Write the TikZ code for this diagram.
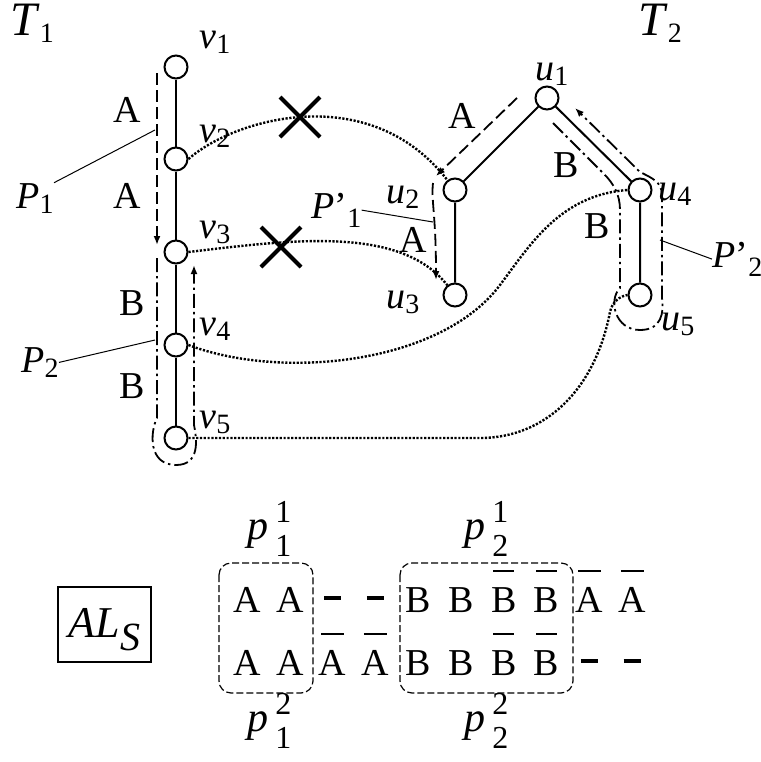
\documentclass[tikz,border=0pt]{standalone}
\usepackage{fontspec}
\setmainfont{Liberation Serif}
\usetikzlibrary{arrows.meta,positioning,calc,shapes.misc}
\definecolor{AlInk}{RGB}{0,0,0}
\newcommand{\subsz}{\fontsize{14}{14}\selectfont}
\newcommand{\pssz}{\fontsize{16}{16}\selectfont}
\newcommand{\lab}[2]{\textit{#1}\/\raisebox{-0.15em}{\subsz #2}}
\newcommand{\labq}[2]{\textit{#1}\/’\raisebox{-0.25em}{\subsz #2}}
\newcommand{\plab}[2]{\textit{p}\,\rlap{\raisebox{0.4em}{\pssz #1}}\raisebox{-0.42em}{\pssz #2}}
\newcommand{\barred}[1]{\setbox0\hbox{#1}\rlap{\hspace{0.06em}\rule[1.04em]{\dimexpr\wd0-0.12em\relax}{0.06em}}\box0}
\newcommand{\gapmark}{\rule[0.32em]{0.45em}{0.1em}}
\tikzset{
  al/vertex/.style={circle, draw=AlInk, line width=1pt, fill=white, minimum size=11.5pt, inner sep=0pt},
  al/edge/.style={draw=AlInk, line width=1pt},
  al/link/.style={draw=AlInk, line width=1.2pt, dash pattern=on 1.1pt off 0.8pt},
  al/pathA/.style={draw=AlInk, line width=0.9pt, dash pattern=on 6pt off 2.5pt},
  al/pathB/.style={draw=AlInk, line width=0.9pt, dash pattern=on 7pt off 2pt on 1.2pt off 2pt},
  al/tip/.style={-{Latex[length=4.5pt,width=3.5pt]}},
  al/cross/.style={cross out, draw=AlInk, line width=2pt, minimum size=18pt, inner sep=0pt},
  al/leader/.style={draw=AlInk, line width=0.5pt},
  al/lab/.style={inner sep=0pt, anchor=base west, font=\fontsize{19}{19}\selectfont},
  al/tag/.style={inner sep=0pt, anchor=base, font=\fontsize{19}{19}\selectfont},
  al/title/.style={inner sep=0pt, anchor=base west, font=\fontsize{24}{24}\selectfont},
  al/cell/.style={inner sep=0pt, anchor=base, font=\fontsize{19}{19}\selectfont},
  al/plabel/.style={inner sep=0pt, anchor=base west, font=\fontsize{21}{21}\selectfont},
  al/group/.style={draw=AlInk, line width=0.6pt, dash pattern=on 3.5pt off 1.5pt, rounded corners=6pt},
  al/boxed/.style={draw=AlInk, line width=0.6pt, minimum width=46.5pt, minimum height=37.5pt,
    inner sep=0pt, text height=14.5pt, text depth=2pt, font=\fontsize{22}{22}\selectfont}
}
\begin{document}
\begin{tikzpicture}[x=0.5pt,y=-0.5pt]
  \useasboundingbox (0,0) rectangle (761,762);
  % tree T1
  \foreach \n/\y in {1/67,2/159,3/252,4/345,5/438}
    \node[al/vertex] (v\n) at (176,\y) {};
  % tree T2
  \node[al/vertex] (u1) at (547,98) {};
  \node[al/vertex] (u2) at (455,190) {};
  \node[al/vertex] (u3) at (455,295) {};
  \node[al/vertex] (u4) at (640,190) {};
  \node[al/vertex] (u5) at (640,295) {};
  \draw[al/edge] (v1) -- (v2) -- (v3) -- (v4) -- (v5);
  \draw[al/edge] (u3) -- (u2) -- (u1) -- (u4) -- (u5);

  % labels
  \node[al/title] (t1) at (10,35) {\lab{T}{1}};
  \node[al/title] (t2) at (638,35) {\lab{T}{2}};
  \foreach \n/\y in {1/48,2/142,3/238,4/335,5/428}
    \node[al/lab] (lv\n) at (199,\y) {\lab{v}{\n}};
  \node[al/lab] (lu1) at (535,80) {\lab{u}{1}};
  \node[al/lab] (lu2) at (386,203) {\lab{u}{2}};
  \node[al/lab] (lu3) at (386,308) {\lab{u}{3}};
  \node[al/lab] (lu4) at (658,200) {\lab{u}{4}};
  \node[al/lab] (lu5) at (661,330) {\lab{u}{5}};

  % broken and kept links
  \node[al/cross] (x1) at (300,117) {};
  \node[al/cross] (x2) at (281,247) {};
  \draw[al/link] (v2.east) .. controls (235,118) and (370,80) .. (u2);
  \draw[al/link] (v3.east) .. controls (290,240) and (400,225) .. (u3);
  \draw[al/link] (v4.east) .. controls (280,380) and (440,365) .. (500,285)
    .. controls (530,245) and (560,195) .. (u4.west);
  \draw[al/link] (v5.east) -- (480,438) .. controls (545,438) and (595,390) .. (610,312)
    .. controls (612,302) and (620,296) .. (u5.west);

  % paths in T1
  \draw[al/pathA, al/tip] (157,73) -- (157,245);
  \draw[al/pathB, al/tip] (157,258) -- (157,418) .. controls (150,432) and (148,465) .. (176,465)
    .. controls (200,465) and (197,440) .. (194,425) -- (194,265);
  \node[al/tag] (a1) at (127,122) {A};
  \node[al/tag] (a2) at (127,208) {A};
  \node[al/tag] (b1) at (132,315) {B};
  \node[al/tag] (b2) at (132,398) {B};
  \node[al/lab] (lp1) at (16,208) {\lab{P}{1}};
  \node[al/lab] (lp2) at (21,372) {\lab{P}{2}};
  \coordinate (p1hook) at (155,130);
  \coordinate (p2hook) at (155,340);
  \draw[al/leader] (lp1.north east) -- (p1hook);
  \draw[al/leader] (lp2.east) -- (p2hook);

  % paths in T2
  \draw[al/pathA, al/tip] (517,98) -- (436,176);
  \draw[al/pathA, al/tip] (433,183) .. controls (431,200) and (436,215) .. (436,280);
  \draw[al/pathB, al/tip] (553,123) -- (604,174) .. controls (614,184) and (620,195) .. (620,210)
    -- (620,288) .. controls (608,300) and (615,330) .. (640,330)
    .. controls (662,330) and (664,312) .. (662,298) -- (662,195)
    .. controls (662,182) and (652,178) .. (640,172) -- (575,108);
  \node[al/tag] (a3) at (462,128) {A};
  \node[al/tag] (a4) at (413,252) {A};
  \node[al/tag] (b3) at (566,177) {B};
  \node[al/tag] (b4) at (597,238) {B};
  \node[al/lab] (lp1p) at (311,218) {\labq{P}{1}};
  \node[al/lab] (lp2p) at (712,267) {\labq{P}{2}};
  \coordinate (p1phook) at (433,222);
  \coordinate (p2phook) at (660,240);
  \draw[al/leader] (lp1p.east) -- (p1phook);
  \draw[al/leader] (lp2p.west) -- (p2phook);

  % alignment AL_S
  \node[al/boxed] (als) at (104.5,624.5) {\textit{AL}\raisebox{-0.3em}{\fontsize{20}{20}\selectfont\textit{S}}};
  \foreach \c [count=\i from 0] in {A,A,\gapmark,\gapmark,B,B,\barred{B},\barred{B},\barred{A},\barred{A}}
    \node[al/cell] (top\i) at (247+42.8*\i,612) {\c};
  \foreach \c [count=\i from 0] in {A,A,\barred{A},\barred{A},B,B,\barred{B},\barred{B},\gapmark,\gapmark}
    \node[al/cell] (bot\i) at (247+42.8*\i,675) {\c};
  \draw[al/group] (219,563) rectangle (313,693);
  \draw[al/group] (400,563) rectangle (573,693);
  \node[al/plabel] (p11) at (247,539) {\plab{1}{1}};
  \node[al/plabel] (p21) at (464,539) {\plab{1}{2}};
  \node[al/plabel] (p12) at (247,731) {\plab{2}{1}};
  \node[al/plabel] (p22) at (464,731) {\plab{2}{2}};
\end{tikzpicture}
\end{document}
